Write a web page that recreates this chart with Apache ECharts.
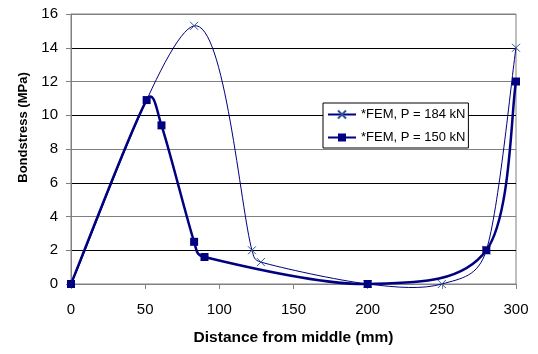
<!DOCTYPE html>
<html><head><meta charset="utf-8">
<script src="https://cdn.jsdelivr.net/npm/echarts@6/dist/echarts.min.js"></script>
<style>html,body{margin:0;padding:0;background:#fff}#c{width:538px;height:354px}</style>
</head><body><div id="c"></div>
<script>
const seriesNames = ['*FEM, P = 184 kN', '*FEM, P = 150 kN'];
const fem184X = [0, 83, 122, 128, 200, 250, 280, 300];
const fem184Y = [0, 15.3, 2.0, 1.3, 0, 0, 2.0, 14.0];
const fem150X = [0, 51, 61, 83, 90, 200, 280, 300];
const fem150Y = [0, 10.9, 9.4, 2.5, 1.6, 0, 2.0, 12.0];
const xTicks = [0, 50, 100, 150, 200, 250, 300];
const yTicks = [0, 2, 4, 6, 8, 10, 12, 14, 16];

const pair = (xs, ys) => xs.map((x, i) => [x, ys[i]]);
const font = 'Liberation Sans, Arial, sans-serif';
const NAVY = '#000080';

// Excel-like smoothed segment (Bezier, tension 1/6, capped at half the segment)
function smoothSegment(xs, ys, stroke, width) {
  return function (params, api) {
    const n = xs.length;
    const i = params.dataIndex;
    if (i >= n - 1) return null;
    const P = k => api.coord([xs[Math.max(0, Math.min(n - 1, k))], ys[Math.max(0, Math.min(n - 1, k))]]);
    const p0 = P(i - 1), p1 = P(i), p2 = P(i + 1), p3 = P(i + 2);
    const d = (a, b) => Math.hypot(b[0] - a[0], b[1] - a[1]);
    const d12 = d(p1, p2), d02 = d(p0, p2), d13 = d(p1, p3);
    let f0 = 1 / 6, f1 = 1 / 6;
    if (d02 / 6 > d12 / 2 && d02 > 0) f0 = d12 / (2 * d02);
    if (d13 / 6 > d12 / 2 && d13 > 0) f1 = d12 / (2 * d13);
    return {
      type: 'bezierCurve',
      shape: {
        x1: p1[0], y1: p1[1], x2: p2[0], y2: p2[1],
        cpx1: p1[0] + (p2[0] - p0[0]) * f0, cpy1: p1[1] + (p2[1] - p0[1]) * f0,
        cpx2: p2[0] - (p3[0] - p1[0]) * f1, cpy2: p2[1] - (p3[1] - p1[1]) * f1
      },
      style: {stroke: stroke, lineWidth: width, fill: null},
      silent: true
    };
  };
}

const chart = echarts.init(document.getElementById('c'), null, {renderer: 'canvas'});
chart.setOption({
  animation: false,
  backgroundColor: '#fff',
  grid: {left: 71, right: 22, top: 14, bottom: 70, show: true, borderColor: '#808080', borderWidth: 1},
  xAxis: {
    type: 'value', min: xTicks[0], max: xTicks[xTicks.length - 1], interval: 50,
    name: 'Distance from middle (mm)', nameLocation: 'middle', nameGap: 46,
    nameTextStyle: {fontFamily: font, fontSize: 15.5, fontWeight: 'bold', color: '#000'},
    axisLine: {onZero: false, lineStyle: {color: '#808080', width: 1}},
    axisTick: {show: true, length: 5, lineStyle: {color: '#808080'}},
    axisLabel: {fontFamily: font, fontSize: 15, color: '#000', margin: 18},
    splitLine: {show: false}
  },
  yAxis: {
    type: 'value', min: yTicks[0], max: yTicks[yTicks.length - 1], interval: 2,
    name: 'Bondstress (MPa)', nameLocation: 'middle', nameGap: 41,
    nameTextStyle: {fontFamily: font, fontSize: 13, fontWeight: 'bold', color: '#000', padding: [0, 0, 0, 43]},
    axisLine: {show: true, lineStyle: {color: '#808080', width: 1}},
    axisTick: {show: true, length: 5, lineStyle: {color: '#808080'}},
    axisLabel: {fontFamily: font, fontSize: 15, color: '#000', margin: 13},
    splitLine: {show: true, lineStyle: {color: ['#808080', '#000'], width: 1}}
  },
  legend: {
    orient: 'vertical', left: 323, top: 103,
    backgroundColor: '#fff', borderColor: '#000', borderWidth: 1, borderRadius: 0,
    padding: [5, 3, 4, 4], itemGap: 10, itemWidth: 28, itemHeight: 10,
    textStyle: {fontFamily: font, fontSize: 13, color: '#000'},
    data: [
      {name: seriesNames[0], lineStyle: {opacity: 1}},
      {name: seriesNames[1], lineStyle: {opacity: 1}}
    ]
  },
  series: [
    {
      name: seriesNames[0] + ' curve', type: 'custom', z: 1,
      data: pair(fem184X, fem184Y),
      renderItem: smoothSegment(fem184X, fem184Y, NAVY, 1)
    },
    {
      name: seriesNames[1] + ' curve', type: 'custom', z: 1,
      data: pair(fem150X, fem150Y),
      renderItem: smoothSegment(fem150X, fem150Y, NAVY, 2.5)
    },
    {
      name: seriesNames[0], type: 'line',
      data: pair(fem184X, fem184Y),
      symbol: 'path://M0,0L10,10M10,0L0,10', symbolSize: 8,
      itemStyle: {color: '#2f5597', borderColor: '#2f5597', borderWidth: 1},
      lineStyle: {color: NAVY, width: 1, opacity: 0},
      z: 3
    },
    {
      name: seriesNames[1], type: 'line',
      data: pair(fem150X, fem150Y),
      symbol: 'rect', symbolSize: 8,
      itemStyle: {color: NAVY},
      lineStyle: {color: NAVY, width: 2.5, opacity: 0},
      z: 4
    }
  ]
});
</script></body></html>
